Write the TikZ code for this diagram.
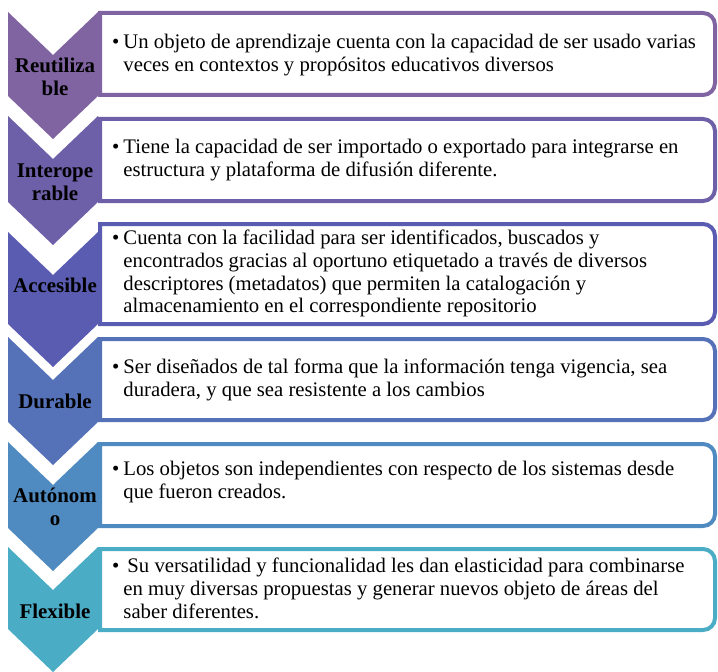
\documentclass[tikz,border=0pt]{standalone}
\usepackage{fontspec}
\setmainfont{Liberation Serif}
\definecolor{c1}{RGB}{128,100,162}
\definecolor{c2}{RGB}{110,95,169}
\definecolor{c3}{RGB}{89,92,177}
\definecolor{c4}{RGB}{85,113,184}
\definecolor{c5}{RGB}{79,139,192}
\definecolor{c6}{RGB}{75,172,198}
\tikzset{
  framebox/.style={draw=#1, line width=4bp, fill=white},
  lbl/.style={font=\fontsize{21}{23}\selectfont\bfseries, align=center, text=black, inner sep=0pt},
  body/.style={anchor=west, inner sep=0pt, font=\fontsize{20.8}{23}\selectfont, align=left},
}
\newcommand\mychevron[3]{%
  \fill[#3] (8,#1) -- (53,#1+43) -- (98,#1) -- (98,#2) -- (53,#2+43) -- (8,#2) -- cycle;}
\newcommand\myframe[3]{%
  \draw[framebox=#3] (100,#1+2) -- (600,#1+2) [rounded corners=12bp] -- (715,#1+2) -- (715,#2-2) -- (600,#2-2) [sharp corners] -- (100,#2-2) -- cycle;}
\newcommand\bl[1]{\begin{tabular}{@{}l@{\hspace{4bp}}l@{}}\textbullet & #1\end{tabular}}
\begin{document}
\begin{tikzpicture}[x=1bp,y=-1bp]
\useasboundingbox (0,0) rectangle (718,672);
% chevrons
\mychevron{12}{96}{c1}
\mychevron{116}{202}{c2}
\mychevron{232}{324}{c3}
\mychevron{337}{422}{c4}
\mychevron{442}{528}{c5}
\mychevron{547}{629}{c6}
% frames
\myframe{11}{97}{c1}
\myframe{117}{203}{c2}
\myframe{222}{326}{c3}
\myframe{337}{422}{c4}
\myframe{442}{528}{c5}
\myframe{547}{632}{c6}
% labels
\node[lbl] (l1) at (55,77) {Reutiliza\\ble};
\node[lbl] (l2) at (55,182) {Interope\\rable};
\node[lbl] (l3) at (55,285) {Accesible};
\node[lbl] (l4) at (55,401) {Durable};
\node[lbl] (l5) at (55,507) {Autónom\\o};
\node[lbl] (l6) at (55,611) {Flexible};
% texts
\node[body] (t1) at (112,55) {\bl{Un objeto de aprendizaje cuenta con la capacidad de ser usado varias\\ & veces en contextos y propósitos educativos diversos}};
\node[body] (t2) at (112,160) {\bl{Tiene la capacidad de ser importado o exportado para integrarse en\\ & estructura y plataforma de difusión diferente.}};
\node[body] (t3) at (112,274) {\bl{Cuenta con la facilidad para ser identificados, buscados y\\ & encontrados gracias al oportuno etiquetado a través de diversos\\ & descriptores (metadatos) que permiten la catalogación y\\ & almacenamiento en el correspondiente repositorio}};
\node[body] (t4) at (112,380) {\bl{Ser diseñados de tal forma que la información tenga vigencia, sea\\ & duradera, y que sea resistente a los cambios}};
\node[body] (t5) at (112,482) {\bl{Los objetos son independientes con respecto de los sistemas desde\\ & que fueron creados.}};
\node[body] (t6) at (112,591) {\bl{\hspace{4bp}Su versatilidad y funcionalidad les dan elasticidad para combinarse\\ & en muy diversas propuestas y generar nuevos objeto de áreas del\\ & saber diferentes.}};
\end{tikzpicture}
\end{document}
